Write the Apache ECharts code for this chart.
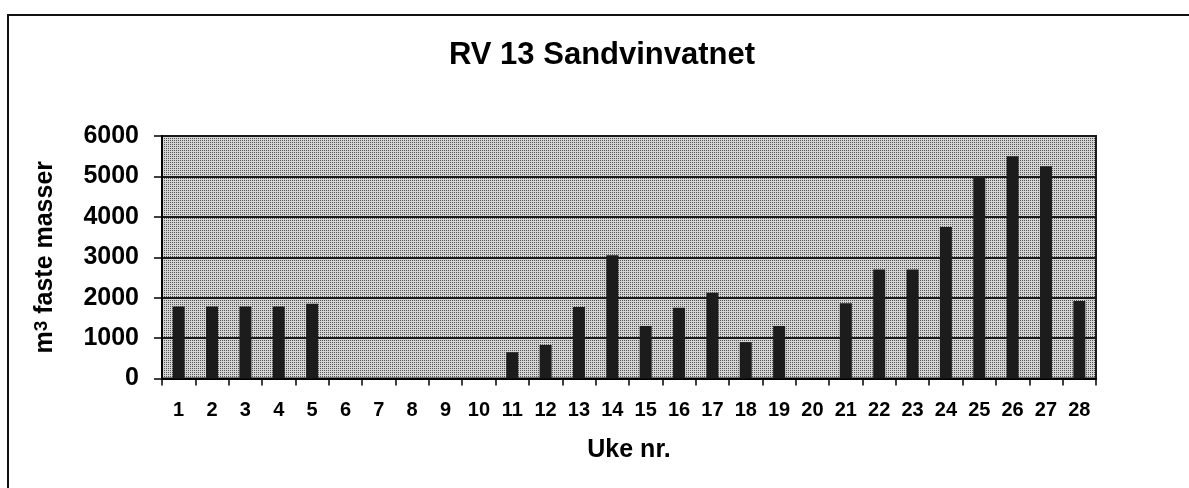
<!DOCTYPE html>
<html>
<head>
<meta charset="utf-8">
<script src="https://cdn.jsdelivr.net/npm/echarts@6/dist/echarts.min.js"></script>
<style>
html,body{margin:0;padding:0;background:#fff;}
#chart{width:1189px;height:488px;}
</style>
</head>
<body>
<div id="chart"></div>
<script>
// Data
const weeks = ['1','2','3','4','5','6','7','8','9','10','11','12','13','14','15','16','17','18','19','20','21','22','23','24','25','26','27','28'];
const volumes = [1780,1780,1780,1780,1850,0,0,0,0,0,650,830,1770,3050,1300,1750,2120,900,1300,0,1860,2700,2700,3750,5000,5500,5250,1920];
const yTicks = [0,1000,2000,3000,4000,5000,6000];
const titleText = 'RV 13 Sandvinvatnet';
const xName = 'Uke nr.';

// stipple pattern for the plot background
const pc = document.createElement('canvas');
pc.width = 2; pc.height = 2;
const pctx = pc.getContext('2d');
pctx.fillStyle = '#d4d4d4'; pctx.fillRect(0,0,2,2);
pctx.fillStyle = '#555555'; pctx.fillRect(0,0,1,1);

const FONT = '"Liberation Sans", Arial, Helvetica, sans-serif';
const chart = echarts.init(document.getElementById('chart'), null, {renderer:'canvas'});
chart.setOption({
  backgroundColor: '#ffffff',
  animation: false,
  title: {
    text: titleText,
    left: 444, top: 35,
    textStyle: {fontFamily: FONT, fontWeight: 'bold', fontSize: 31, color: '#000'}
  },
  graphic: [{
    type: 'rect',
    shape: {x: 8, y: 15, width: 1300, height: 600},
    style: {fill: 'none', stroke: '#111', lineWidth: 2},
    silent: true, z: 0
  }],
  grid: {
    left: 162, right: 93, top: 136, bottom: 109.5,
    show: true,
    backgroundColor: {image: pc, repeat: 'repeat'},
    borderColor: '#1a1a1a', borderWidth: 2
  },
  xAxis: {
    type: 'category',
    data: weeks,
    boundaryGap: true,
    name: xName,
    nameLocation: 'middle',
    nameGap: 59,
    nameTextStyle: {fontFamily: FONT, fontWeight: 'bold', fontSize: 25, color: '#000'},
    axisLine: {show: true, lineStyle: {color: '#000', width: 2}},
    axisTick: {show: true, inside: false, length: 7, alignWithLabel: false, lineStyle: {color: '#000', width: 1.5}},
    axisLabel: {fontFamily: FONT, fontWeight: 'bold', fontSize: 20, color: '#000', margin: 22, interval: 0}
  },
  yAxis: {
    type: 'value',
    min: yTicks[0], max: yTicks[yTicks.length-1], interval: 1000,
    name: '{a|m}{s|3}{a| faste masser}',
    nameLocation: 'middle',
    nameRotate: 90,
    nameGap: 81,
    nameTextStyle: {
      rich: {
        a: {fontFamily: FONT, fontWeight: 'bold', fontSize: 25, lineHeight: 25, color: '#000', verticalAlign: 'bottom'},
        s: {fontFamily: FONT, fontWeight: 'bold', fontSize: 19, lineHeight: 19, color: '#000', verticalAlign: 'top', padding: [0,0,21,0]}
      }
    },
    axisLine: {show: true, lineStyle: {color: '#000', width: 2}},
    axisTick: {show: true, inside: false, length: 8, lineStyle: {color: '#000', width: 1.5}},
    axisLabel: {fontFamily: FONT, fontWeight: 'bold', fontSize: 25, color: '#000', margin: 23,
      formatter: function (v) { return String(v); }},
    splitLine: {show: true, lineStyle: {color: '#1a1a1a', width: 2}}
  },
  series: [{
    type: 'bar',
    data: volumes,
    barWidth: 12,
    itemStyle: {color: '#1c1c1c'}
  }]
});
</script>
</body>
</html>
